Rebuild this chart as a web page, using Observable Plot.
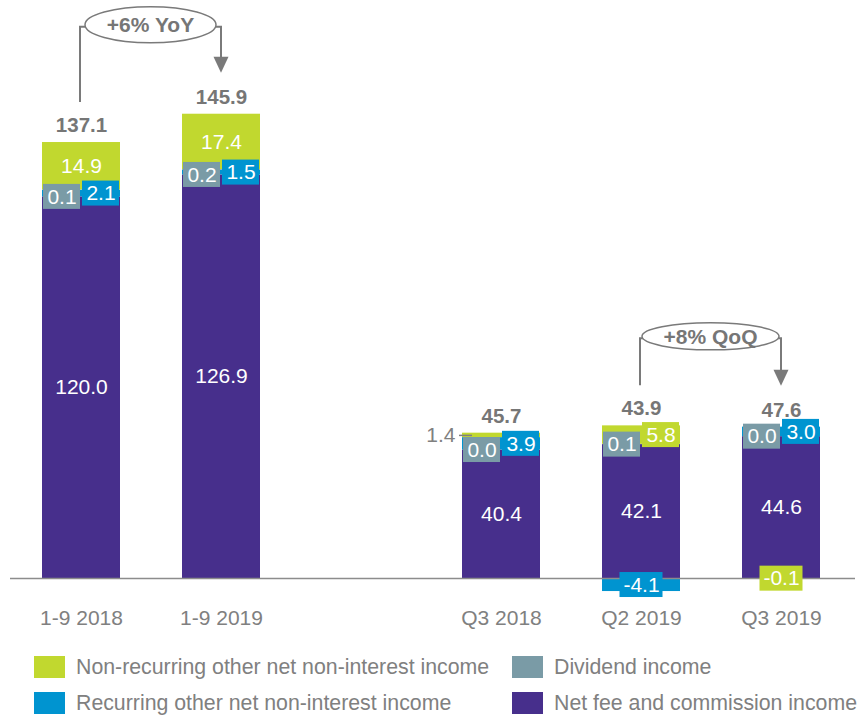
<!DOCTYPE html>
<html><head><meta charset="utf-8">
<script src="https://cdn.jsdelivr.net/npm/d3@7"></script>
<script src="https://cdn.jsdelivr.net/npm/@observablehq/plot@0.6"></script>
<style>
body{margin:0;background:#fff;font-family:"Liberation Sans",Arial,sans-serif;}
#chart svg{display:block}
.legend{display:grid;grid-template-columns:478px auto;padding:9px 0 0 34px;}
.item{display:flex;align-items:center;height:36px;font-size:21.3px;color:#808080;white-space:nowrap}
.sw{width:31px;height:22px;margin-right:11px;flex:none}
</style></head><body><div id="chart"></div><div class="legend" id="legend"></div>
<script>
const categories = ["1-9 2018","1-9 2019","Q3 2018","Q2 2019","Q3 2019"];
const slots = ["1-9 2018","1-9 2019"," ","Q3 2018","Q2 2019","Q3 2019"];
const seriesNames = ["Net fee and commission income","Recurring other net non-interest income","Dividend income","Non-recurring other net non-interest income"];
const netFee = [120.0,126.9,40.4,42.1,44.6];
const recurring = [2.1,1.5,3.9,-4.1,3.0];
const dividend = [0.1,0.2,0.0,0.1,0.0];
const nonRecurring = [14.9,17.4,1.4,5.8,-0.1];
const totals = [137.1,145.9,45.7,43.9,47.6];
const colors = ["#472f8c","#0094d0","#7a9ba6","#c1d82f"];
const legendOrder = [3,2,1,0];
const brackets = [
  {from:"1-9 2018", to:"1-9 2019", label:"+6% YoY"},
  {from:"Q2 2019", to:"Q3 2019", label:"+8% QoQ"}
];
const bracketShape = [{rx:65.5, ry:18},{rx:68.5, ry:13.5}];

const valuesBySeries = [netFee, recurring, dividend, nonRecurring];
const fmt = v => v.toFixed(1);

// stacked segments
const rows = [];
const tops = [];
categories.forEach((c,i)=>{
  let pos=0, neg=0;
  valuesBySeries.forEach((arr,s)=>{
    const v = arr[i];
    let y1,y2;
    if (v>=0){y1=pos;y2=pos+v;pos=y2;} else {y1=neg;y2=neg+v;neg=y2;}
    rows.push({cat:c, i, series:seriesNames[s], s, v, y1, y2, mid:(y1+y2)/2});
  });
  tops.push({cat:c, top:pos, text:fmt(totals[i])});
});

// label placement
const plainLabels = [], boxLeft = [], boxRight = [], boxCenter = [], outside = [];
rows.forEach(r=>{
  const lab = {cat:r.cat, series:r.series, text:fmt(r.v), y:r.mid};
  if (r.s===0) plainLabels.push(lab);
  else if (r.s===2) { lab.y = netFee[r.i]; boxLeft.push(lab); }
  else if (r.s===1) { if (r.v<0) boxCenter.push(lab); else boxRight.push(lab); }
  else {
    if (r.v<0) boxCenter.push(lab);
    else if (r.v>=10) plainLabels.push(lab);
    else if (r.v<2) outside.push(lab);
    else boxRight.push(lab);
  }
});

const Y0 = 578, YT = 5.6, YMAX = 180;
const hb = 12.5/((Y0-YT)/YMAX);
const box = (data, il, ir) => Plot.barY(data,{x:"cat", y1:d=>d.y-hb, y2:d=>d.y+hb, fill:"series", insetLeft:il, insetRight:ir});
const white = {x:"cat", y:"y", text:"text", fill:"white", fontSize:21, lineAnchor:"middle"};

const chart = Plot.plot({
  width:860, height:640,
  marginLeft:10, marginRight:5, marginTop:6, marginBottom:62,
  style:{fontFamily:'"Liberation Sans", Arial, sans-serif', color:"#808080", background:"#fff"},
  x:{domain:slots, range:[41,820], paddingInner:0.444, paddingOuter:0, axis:null},
  y:{domain:[0,YMAX], range:[Y0,YT], axis:null},
  color:{domain:seriesNames, range:colors},
  marks:[
    Plot.barY(rows,{x:"cat", y1:"y1", y2:"y2", fill:"series"}),
    Plot.ruleY([0],{stroke:"#8c8c8c", strokeWidth:1.5}),
    box(boxLeft,1,40),
    box(boxRight,40,1),
    box(boxCenter,17.5,17.5),
    Plot.text(plainLabels, white),
    Plot.text(boxLeft, {...white, dx:-19.5}),
    Plot.text(boxRight, {...white, dx:19.5}),
    Plot.text(boxCenter, white),
    Plot.text(outside,{x:"cat", y:"y", text:"text", fill:"#808080", fontSize:21, textAnchor:"end", dx:-46, lineAnchor:"middle"}),
    Plot.tickY(outside,{x:"cat", y:"y", stroke:"#808080", strokeWidth:1.5, insetLeft:-3, insetRight:68}),
    Plot.text(tops,{x:"cat", y:"top", text:"text", dy:-17, fontWeight:"bold", fontSize:20.5, fill:"#767676", lineAnchor:"middle"}),
    Plot.axisX({domain:slots, tickSize:0, tickPadding:32, fontSize:21, tickFormat:d=>d.trim(), label:null, fill:"#808080"})
  ]
});
document.getElementById("chart").appendChild(chart);

// bracket annotations using the chart's scales
const sx = chart.scale("x"), sy = chart.scale("y");
const bw = sx.bandwidth;
const g = d3.select(chart).append("g").attr("fill","none").attr("stroke","#7a7a7a").attr("stroke-width",2);
brackets.forEach((b,k)=>{
  const iL = categories.indexOf(b.from), iR = categories.indexOf(b.to);
  const xL = sx.apply(b.from)+bw/2-1, xR = sx.apply(b.to)+bw/2;
  const yL = sy.apply(tops[iL].top)-40, yR = sy.apply(tops[iR].top)-41;
  const cy = Math.min(sy.apply(tops[iL].top), sy.apply(tops[iR].top)) - 89;
  const cx = (xL+xR)/2;
  const {rx, ry} = bracketShape[k];
  g.append("path").attr("d",`M${xL},${yL}V${cy+2}H${cx-rx+3}`);
  g.append("path").attr("d",`M${cx+rx-3},${cy+2}H${xR}V${yR-15}`);
  g.append("path").attr("d",`M${xR-7.5},${yR-16}L${xR+7.5},${yR-16}L${xR},${yR}Z`).attr("fill","#7a7a7a").attr("stroke","none");
  g.append("ellipse").attr("cx",cx).attr("cy",cy).attr("rx",rx).attr("ry",ry).attr("fill","#fff").attr("stroke-width",1.5);
  g.append("text").attr("x",cx).attr("y",cy).attr("dy","0.36em").attr("text-anchor","middle")
    .attr("stroke","none").attr("fill","#767676").attr("font-weight","bold").attr("font-size",21).text(b.label);
});

// legend
const lg = document.getElementById("legend");
legendOrder.forEach(s=>{
  const it = document.createElement("div"); it.className="item";
  const sw = document.createElement("span"); sw.className="sw"; sw.style.background=colors[s];
  const tx = document.createElement("span"); tx.textContent = seriesNames[s];
  it.appendChild(sw); it.appendChild(tx); lg.appendChild(it);
});
</script></body></html>
